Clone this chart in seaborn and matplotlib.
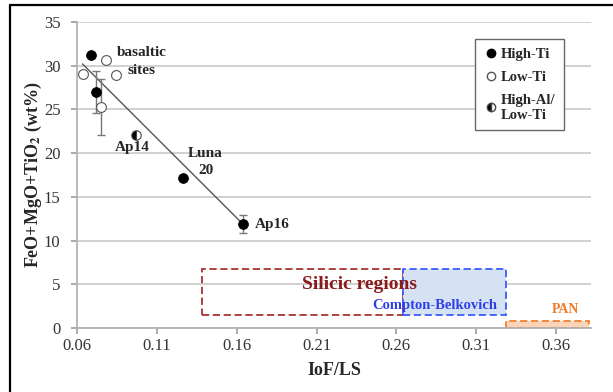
import numpy as np
import pandas as pd
import matplotlib.pyplot as plt
import matplotlib.patches as mpatches
from matplotlib.lines import Line2D
import seaborn as sns

# data
high_ti_x = [0.0688, 0.0717, 0.1265, 0.1638]
high_ti_y = [31.2, 27.0, 17.2, 11.9]
high_ti_err = [0, 2.4, 0, 1.0]
low_ti_x = [0.0633, 0.0779, 0.0846, 0.0752]
low_ti_y = [29.1, 30.7, 28.9, 25.3]
low_ti_err = [0, 0, 0, 3.2]
high_al_x = [0.0967]
high_al_y = [22.1]
trend_x = [0.0633, 0.1638]
trend_y = [30.2, 11.9]

# regions: (x0, x1, y0, y1)
silicic = (0.138, 0.264, 1.5, 6.7)
compton = (0.264, 0.329, 1.5, 6.7)
pan = (0.329, 0.381, 0.0, 0.8)

sns.set_theme(style="white")
plt.rcParams['font.family'] = ['Liberation Serif', 'DejaVu Serif']
plt.rcParams['mathtext.fontset'] = 'stix'

fig = plt.figure(figsize=(6.13, 3.92), dpi=100)
ax = fig.add_axes([0.126, 0.163, 0.838, 0.781])
# page frame: left and top edges only
fig.add_artist(Line2D([0.016, 0.016], [0.0, 0.987], transform=fig.transFigure,
                      color='black', linewidth=1.6))
fig.add_artist(Line2D([0.016, 1.0], [0.987, 0.987], transform=fig.transFigure,
                      color='black', linewidth=1.6))

ax.set_xlim(0.06, 0.382)
ax.set_ylim(0, 35)
ax.set_yticks(np.arange(0, 36, 5))
ax.set_xticks([0.06, 0.11, 0.16, 0.21, 0.26, 0.31, 0.36])
ax.set_xticklabels(['0.06', '0.11', '0.16', '0.21', '0.26', '0.31', '0.36'])
ax.yaxis.grid(True, color='#c4c4c4', linewidth=1.1)
ax.set_axisbelow(True)
for s in ['top', 'right']:
    ax.spines[s].set_visible(False)
for s in ['left', 'bottom']:
    ax.spines[s].set_color('#b0b0b0')
ax.tick_params(axis='x', bottom=True, length=4, color='#a0a0a0', labelsize=12, pad=3,
               labelcolor='#333333')
ax.tick_params(axis='y', left=True, length=4, color='#a0a0a0', labelsize=12, pad=8,
               labelcolor='#333333')

# regions
r = silicic
ax.add_patch(mpatches.Rectangle((r[0], r[2]), r[1]-r[0], r[3]-r[2], fill=False,
                                edgecolor='#a83232', linestyle=(0, (4, 2)), linewidth=1.3))
r = compton
ax.add_patch(mpatches.Rectangle((r[0], r[2]), r[1]-r[0], r[3]-r[2], facecolor='#d4e2f3',
                                edgecolor='#3b5bff', linestyle=(0, (4, 2)), linewidth=1.3, zorder=2))
r = pan
ax.add_patch(mpatches.Rectangle((r[0], r[2]), r[1]-r[0], r[3]-r[2], facecolor='#fbd3b8',
                                edgecolor='#f08030', linestyle=(0, (4, 2)), linewidth=1.3, zorder=2))
ax.text(0.237, 5.0, 'Silicic regions', color='#8b1a1a', fontsize=14, fontweight='bold',
        ha='center', va='center', zorder=4)
ax.text(0.284, 2.55, 'Compton-Belkovich', color='#2f3fe8', fontsize=10.5, fontweight='bold',
        ha='center', va='center', zorder=4)
ax.text(0.366, 2.1, 'PAN', color='#f07a2a', fontsize=10, fontweight='bold',
        ha='center', va='center')

# trend line
sns.lineplot(x=trend_x, y=trend_y, color='#555555', linewidth=1, ax=ax)

# error bars
ax.errorbar(high_ti_x, high_ti_y, yerr=high_ti_err, fmt='none', ecolor='#777777',
            elinewidth=1, capsize=3, zorder=3)
ax.errorbar(low_ti_x, low_ti_y, yerr=low_ti_err, fmt='none', ecolor='#777777',
            elinewidth=1, capsize=3, zorder=3)

sns.scatterplot(x=high_ti_x, y=high_ti_y, color='black', edgecolor='black', s=50, ax=ax, zorder=5)
sns.scatterplot(x=low_ti_x, y=low_ti_y, color='white', edgecolor='#555555', linewidth=0.8,
                s=50, ax=ax, zorder=5)
ax.plot(high_al_x, high_al_y, 'o', markersize=6.8, fillstyle='left', markerfacecolor='black',
        markerfacecoloralt='white', markeredgecolor='#444444', markeredgewidth=0.8, zorder=5)

# labels
bold = dict(fontsize=11, fontweight='bold')
ax.text(0.0847, 31.5, 'basaltic', ha='left', va='center', **bold)
ax.text(0.0918, 29.4, 'sites', ha='left', va='center', **bold)
ax.text(0.0943, 20.7, 'Ap14', ha='center', va='center', **bold)
ax.text(0.140, 20.0, 'Luna', ha='center', va='center', **bold)
ax.text(0.141, 18.0, '20', ha='center', va='center', **bold)
ax.text(0.1715, 11.8, 'Ap16', ha='left', va='center', **bold)

ax.set_xlabel('IoF/LS', fontsize=13, fontweight='bold', labelpad=6)
ax.set_ylabel(r'FeO+MgO+TiO$_\mathbf{2}$ (wt%)', fontsize=13, fontweight='bold', labelpad=0)

handles = [
    Line2D([], [], marker='o', linestyle='none', markerfacecolor='black', markeredgecolor='black', markersize=6),
    Line2D([], [], marker='o', linestyle='none', markerfacecolor='white', markeredgecolor='#555555', markersize=6),
    Line2D([], [], marker='o', linestyle='none', fillstyle='left', markerfacecolor='black',
           markerfacecoloralt='white', markeredgecolor='#444444', markersize=6),
]
leg = ax.legend(handles, ['High-Ti', 'Low-Ti', 'High-Al/\nLow-Ti'], loc='upper right',
                bbox_to_anchor=(0.948, 0.943), frameon=True, fancybox=False, framealpha=1,
                prop={'weight': 'bold', 'size': 10.5}, handletextpad=0.2, labelspacing=0.65,
                borderpad=0.6, handlelength=1.0, borderaxespad=0)
leg.get_frame().set_edgecolor('#666666')

fig.savefig('out.png', dpi=100)
